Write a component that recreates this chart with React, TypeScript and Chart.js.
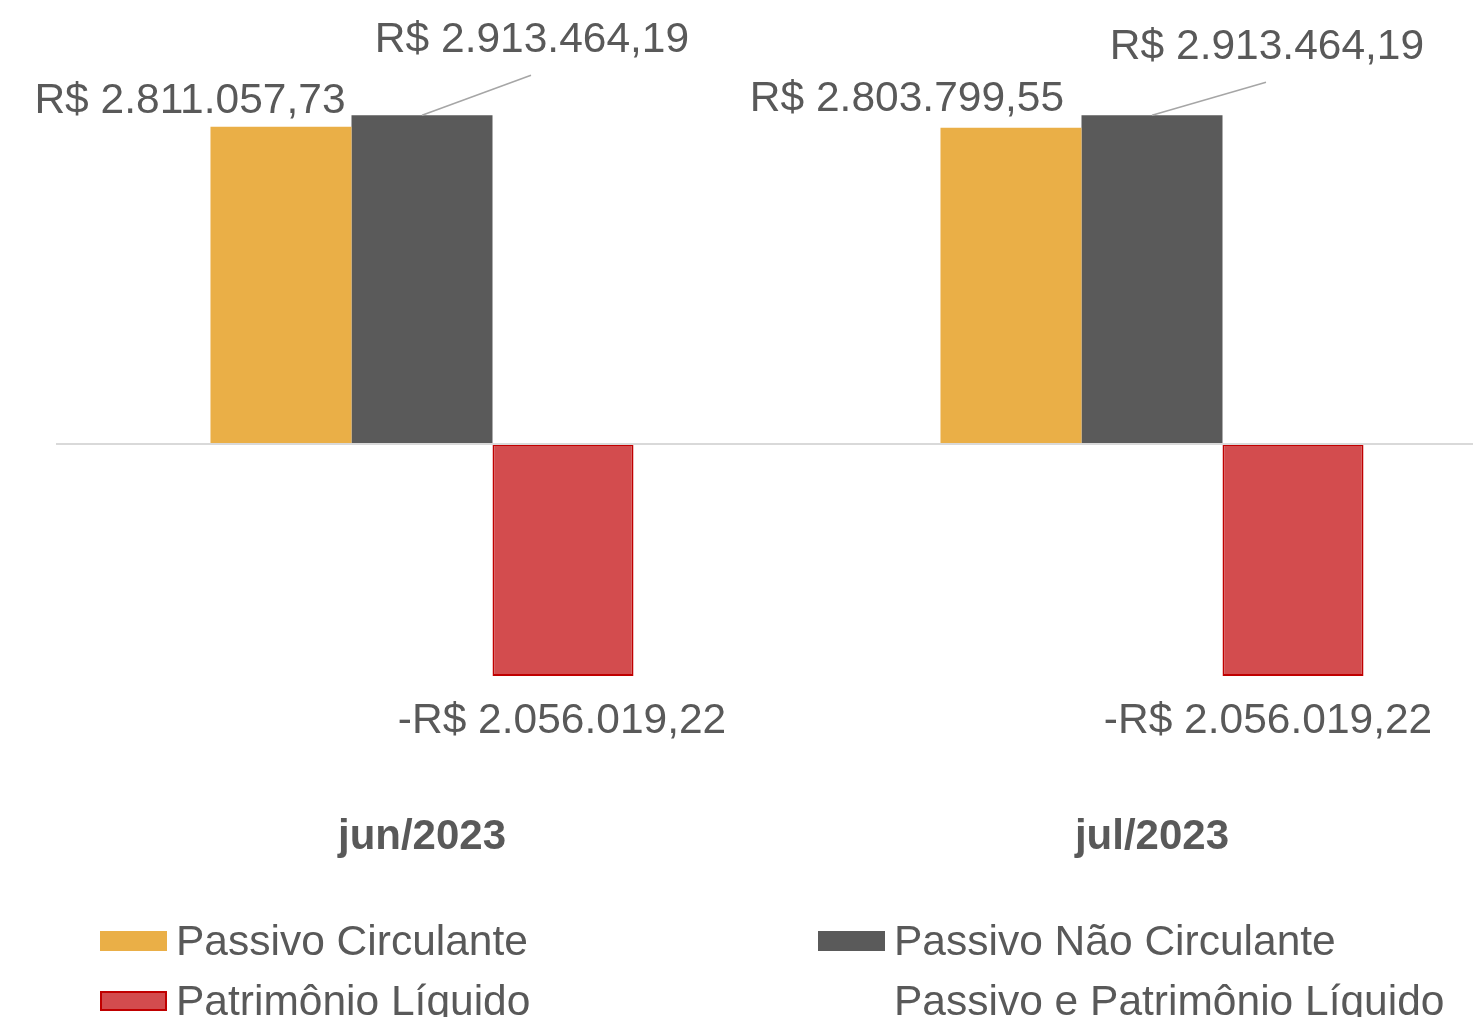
import React, { useEffect, useRef } from 'react';
import { Chart, registerables } from 'chart.js';

Chart.register(...registerables);

const FONT = '"Liberation Sans", Arial, Helvetica, sans-serif';

const categories = ['jun/2023', 'jul/2023'];
const seriesLabels = [
  'Passivo Circulante',
  'Passivo Não Circulante',
  'Patrimônio Líquido',
  'Passivo e Patrimônio Líquido',
];
const passivoCirculante = [2811057.73, 2803799.55];
const passivoNaoCirculante = [2913464.19, 2913464.19];
const patrimonioLiquido = [-2056019.22, -2056019.22];
const passivoEPatrimonio: (number | null)[] = [null, null];

const yMin = -3000000;
const yMax = 3900000;

// style: label offsets (px) relative to bar end, per series / category
const labelOffsets: number[][][] = [
  [[-91, -14], [-104, -17]],
  [[110, -63], [115, -56]],
  [[-1, 57], [-25, 57]],
];

function brl(v: number): string {
  const neg = v < 0;
  const [i, d] = Math.abs(v).toFixed(2).split('.');
  const ii = i.replace(/\B(?=(\d{3})+(?!\d))/g, '.');
  return (neg ? '-' : '') + 'R$ ' + ii + ',' + d;
}

const zeroLinePlugin = {
  id: 'zeroLine',
  afterDatasetsDraw(chart: any) {
    const ctx = chart.ctx;
    const y = chart.scales.y.getPixelForValue(0);
    ctx.save();
    ctx.strokeStyle = '#D9D9D9';
    ctx.lineWidth = 2;
    ctx.beginPath();
    ctx.moveTo(chart.chartArea.left - 1, y);
    ctx.lineTo(chart.chartArea.right, y);
    ctx.stroke();
    ctx.restore();
  },
};

const labelPlugin = {
  id: 'barLabels',
  afterDatasetsDraw(chart: any) {
    const ctx = chart.ctx;
    ctx.save();
    ctx.font = `42.5px ${FONT}`;
    ctx.fillStyle = '#595959';
    ctx.textAlign = 'center';
    ctx.textBaseline = 'alphabetic';
    for (let i = 0; i < 3; i++) {
      const meta = chart.getDatasetMeta(i);
      meta.data.forEach((el: any, j: number) => {
        const v = chart.data.datasets[i].data[j] as number;
        const [dx, dy] = labelOffsets[i][j];
        const tx = el.x + dx;
        const ty = el.y + dy;
        if (i === 1) {
          ctx.save();
          ctx.strokeStyle = '#A6A6A6';
          ctx.lineWidth = 1.5;
          ctx.beginPath();
          ctx.moveTo(el.x, el.y);
          ctx.lineTo(tx - 1, ty + 23);
          ctx.stroke();
          ctx.restore();
        }
        ctx.fillText(brl(v), tx, ty);
      });
    }
    ctx.restore();
  },
};

const legendPlugin = {
  id: 'gridLegend',
  afterDraw(chart: any) {
    const ctx = chart.ctx;
    const cols = [100, 818];
    const rows = [931, 991];
    ctx.save();
    ctx.font = `42.5px ${FONT}`;
    ctx.textAlign = 'left';
    ctx.textBaseline = 'alphabetic';
    chart.data.datasets.forEach((ds: any, i: number) => {
      const x = cols[i % 2];
      const y = rows[Math.floor(i / 2)];
      if (ds.backgroundColor && ds.backgroundColor !== 'transparent') {
        ctx.fillStyle = ds.backgroundColor;
        ctx.fillRect(x, y, 67, 20);
        if (ds.borderWidth) {
          ctx.strokeStyle = ds.borderColor;
          ctx.lineWidth = 2;
          ctx.strokeRect(x + 1, y + 1, 65, 18);
        }
      }
      ctx.fillStyle = '#595959';
      ctx.fillText(ds.label, x + 76, y + 24);
    });
    ctx.restore();
  },
};

export default function App() {
  const ref = useRef<HTMLCanvasElement | null>(null);

  useEffect(() => {
    document.body.style.margin = '0';
    const canvas = ref.current;
    if (!canvas) return;
    const chart = new Chart(canvas, {
      type: 'bar',
      data: {
        labels: categories,
        datasets: [
          {
            label: seriesLabels[0],
            data: passivoCirculante,
            backgroundColor: '#EAAF47',
            borderWidth: 0,
          },
          {
            label: seriesLabels[1],
            data: passivoNaoCirculante,
            backgroundColor: '#5A5A5A',
            borderWidth: 0,
          },
          {
            label: seriesLabels[2],
            data: patrimonioLiquido,
            backgroundColor: '#D34C4E',
            borderColor: '#C00000',
            borderWidth: 2,
            borderSkipped: false,
          },
          {
            type: 'line',
            label: seriesLabels[3],
            data: passivoEPatrimonio,
            backgroundColor: 'transparent',
            borderColor: 'transparent',
            borderWidth: 0,
            pointRadius: 0,
          } as any,
        ],
      },
      options: {
        responsive: false,
        animation: false,
        devicePixelRatio: 1,
        datasets: {
          bar: { categoryPercentage: 0.5795, barPercentage: 1 },
        },
        layout: { padding: { left: 57, right: 13, top: 4, bottom: 0 } },
        plugins: {
          legend: { display: false },
          tooltip: { enabled: false },
        },
        scales: {
          x: {
            grid: { display: false, drawTicks: false },
            border: { display: false },
            ticks: {
              color: '#595959',
              font: { family: FONT, size: 42, weight: 'bold' },
              padding: 30,
              maxRotation: 0,
              autoSkip: false,
            },
            afterFit: (s: any) => {
              s.height = 234.5;
            },
          },
          y: {
            display: false,
            min: yMin,
            max: yMax,
            ticks: { stepSize: 1000000 },
          },
        },
      } as any,
      plugins: [zeroLinePlugin, labelPlugin, legendPlugin],
    });
    return () => chart.destroy();
  }, []);

  return (
    <div
      style={{
        position: 'absolute',
        left: 0,
        top: 0,
        width: 1473,
        height: 1017,
        overflow: 'hidden',
        background: '#FFFFFF',
      }}
    >
      <canvas ref={ref} width={1530} height={1017} style={{ display: 'block', width: 1530, height: 1017 }} />
    </div>
  );
}
